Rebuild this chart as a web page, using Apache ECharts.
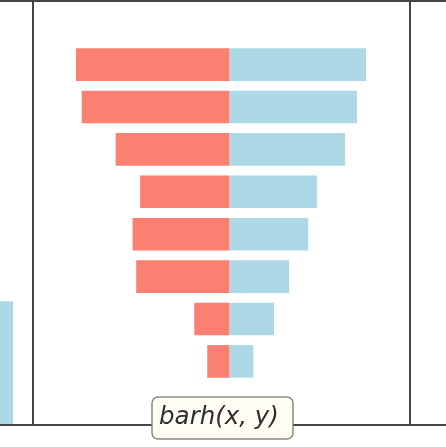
<!DOCTYPE html>
<html>
<head>
<meta charset="utf-8">
<script src="https://cdn.jsdelivr.net/npm/echarts@6/dist/echarts.min.js"></script>
<style>html,body{margin:0;padding:0;background:#fff;}#c{width:446px;height:447px;}</style>
</head>
<body>
<div id="c"></div>
<script>
// Data
const categories = ['', 'g1', 'g2', 'g3', 'g4', 'g5', 'g6', 'g7', 'g8', ''];
const leftValues  = [null, 4.26, 4.10, 3.16, 2.48, 2.69, 2.59, 0.98, 0.62, null]; // red, drawn to the left
const rightValues = [null, 3.78, 3.53, 3.20, 2.42, 2.18, 1.65, 1.23, 0.66, null]; // blue, drawn to the right
const neighbourCategories = ['a'];
const neighbourValues = [2.92];
const labelText = 'barh(x, y)';

const chart = echarts.init(document.getElementById('c'), null, {renderer: 'canvas'});
const hidden = {axisLine:{show:false}, axisTick:{show:false}, axisLabel:{show:false}, splitLine:{show:false}};
chart.setOption({
  animation: false,
  backgroundColor: '#ffffff',
  grid: [
    {left: 33, right: 36, top: 1, bottom: 22, show: true, borderColor: '#444', borderWidth: 2, backgroundColor: 'transparent'},
    {left: 0, width: 13, top: 1, bottom: 22, show: false}
  ],
  xAxis: [
    Object.assign({type: 'value', gridIndex: 0, min: -5.45, max: 5.0}, hidden),
    Object.assign({type: 'category', gridIndex: 1, data: neighbourCategories}, hidden)
  ],
  yAxis: [
    Object.assign({type: 'category', gridIndex: 0, data: categories, inverse: true}, hidden),
    Object.assign({type: 'value', gridIndex: 1, min: 0, max: 10}, hidden)
  ],
  series: [
    {type: 'bar', xAxisIndex: 0, yAxisIndex: 0, data: leftValues.map(v => v == null ? null : -v),
     barWidth: '77%', barGap: '-100%', itemStyle: {color: '#FA8072'}, silent: true},
    {type: 'bar', xAxisIndex: 0, yAxisIndex: 0, data: rightValues,
     barWidth: '77%', barGap: '-100%', itemStyle: {color: '#ADD8E6'}, silent: true},
    {type: 'bar', xAxisIndex: 1, yAxisIndex: 1, data: neighbourValues,
     barWidth: '100%', itemStyle: {color: '#ADD8E6'}, silent: true}
  ],
  graphic: [
    {type: 'line', shape: {x1: 0, y1: 1, x2: 446, y2: 1}, style: {stroke: '#444', lineWidth: 2}, z: 10},
    {type: 'line', shape: {x1: 0, y1: 425, x2: 446, y2: 425}, style: {stroke: '#444', lineWidth: 2}, z: 10},
    {type: 'rect', shape: {x: 152, y: 397, width: 141, height: 42, r: 6},
     style: {fill: '#fffdf4', stroke: '#8a8a80', lineWidth: 1.5}, z: 20},
    {type: 'text', x: 219, y: 418, z: 21,
     style: {text: labelText, font: 'italic 24.5px "DejaVu Sans"', fill: '#2e2e2e', align: 'center', verticalAlign: 'middle'}}
  ]
});
</script>
</body>
</html>
